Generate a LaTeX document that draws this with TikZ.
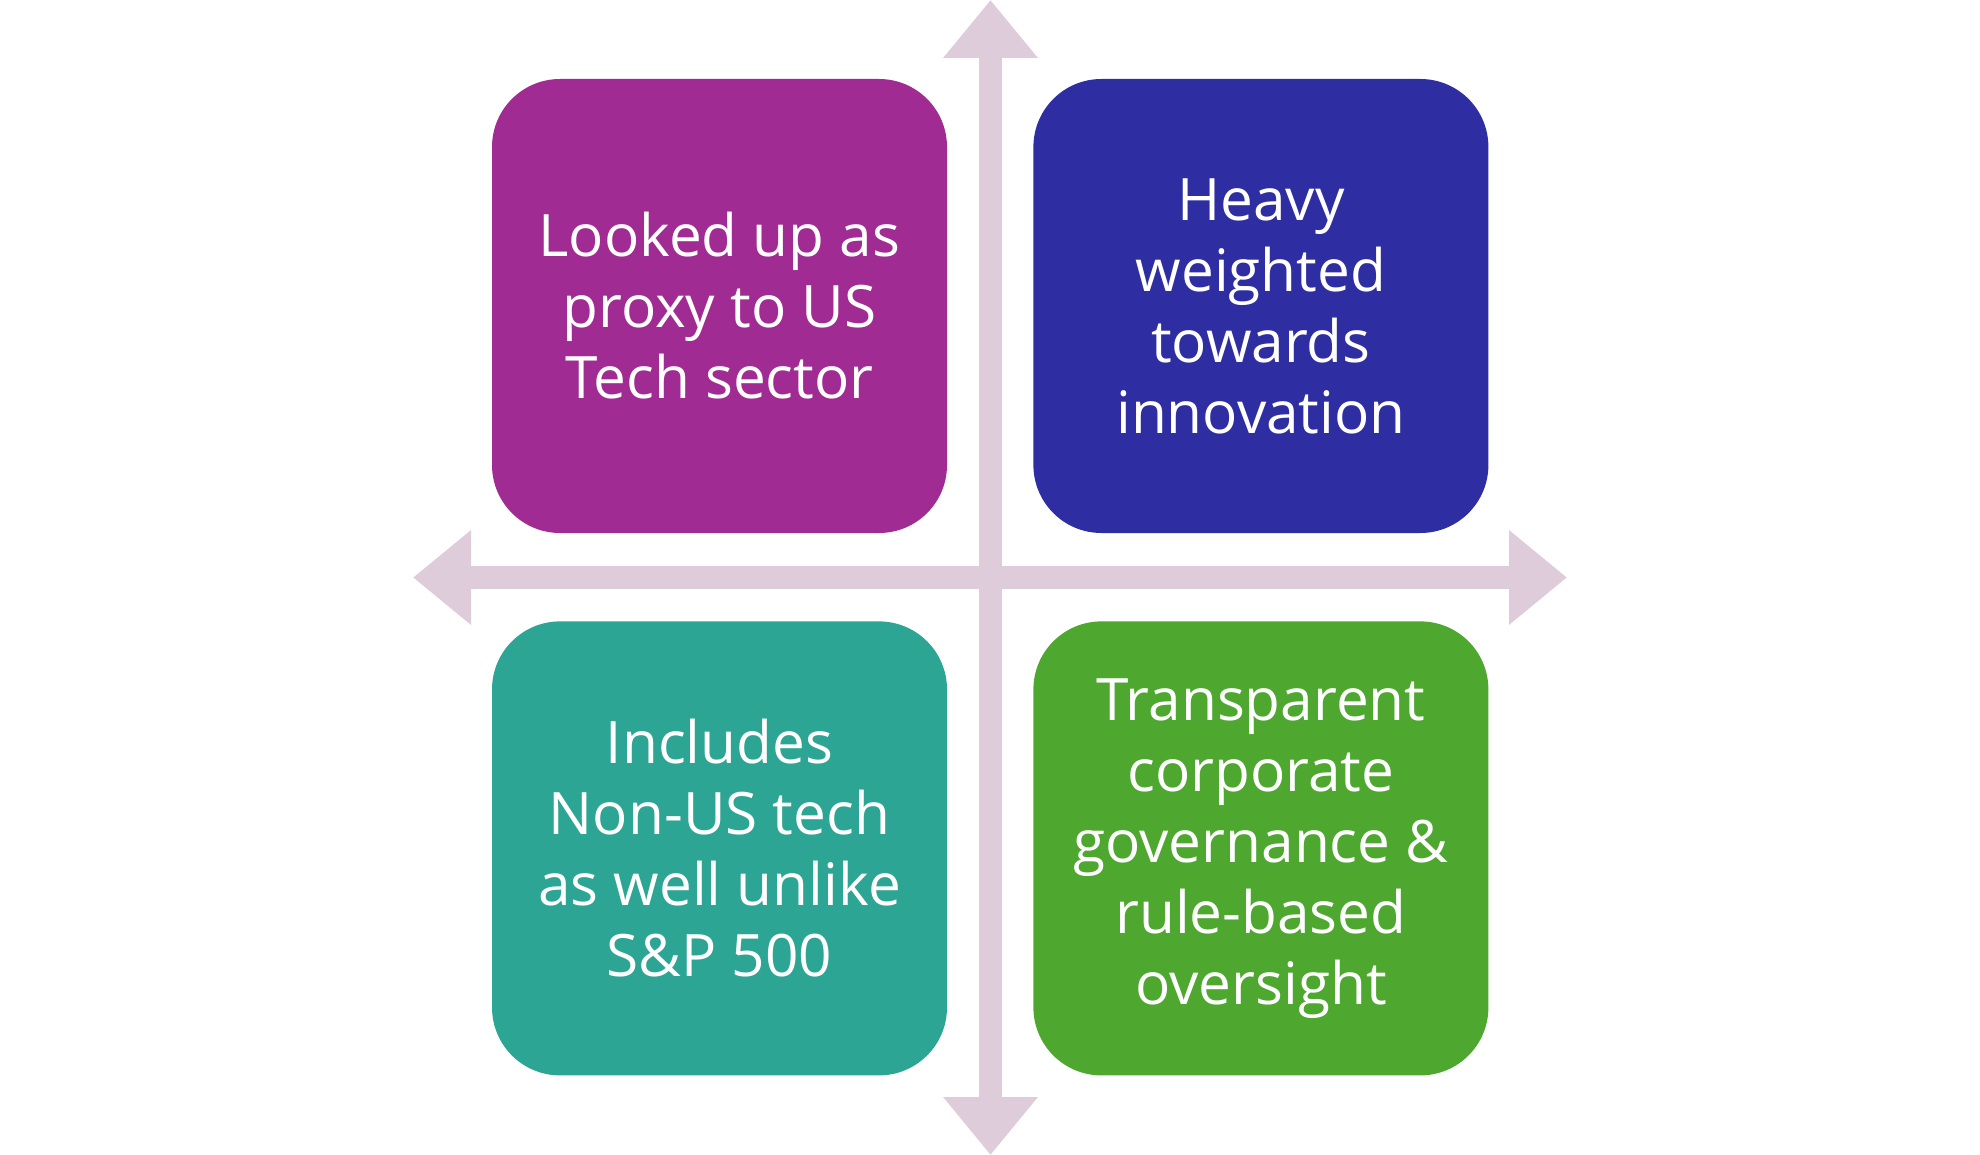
\documentclass[tikz,border=0pt]{standalone}
\usepackage{fontspec}
\setmainfont{Open Sans}
\usetikzlibrary{arrows.meta, positioning}

\definecolor{quadPurple}{HTML}{A02B93}
\definecolor{quadBlue}{HTML}{2E2EA2}
\definecolor{quadTeal}{HTML}{2DA594}
\definecolor{quadGreen}{HTML}{4EA72E}
\definecolor{axisPink}{HTML}{DFCCDB}

\begin{document}
\begin{tikzpicture}[
  x=1pt, y=-1pt,
  quad/.style = {
    rectangle, rounded corners=68pt,
    minimum width=455pt, minimum height=454pt,
    align=center, text=white, inner sep=0pt,
    font=\fontsize{58.5}{71}\selectfont
  },
  axis/.style = {
    draw=axisPink, line width=23pt,
    {Triangle[length=58pt, width=91pt]}-{Triangle[length=58pt, width=91pt]}
  }
]
\useasboundingbox (0,0) rectangle (1980,1155);
%--- AXES ---
\coordinate (top)    at (990.5,0);
\coordinate (bottom) at (990.5,1155);
\coordinate (left)   at (413,577.5);
\coordinate (right)  at (1567,577.5);
\draw[axis] (top) -- (bottom);
\draw[axis] (left) -- (right);
%--- QUADRANTS ---
\node[quad, fill=quadPurple] (proxy) at (719.5,306)
  {Looked up as\\proxy to US\\Tech sector};
\node[quad, fill=quadBlue, right=86pt of proxy] (innov)
  {Heavy\\weighted\\towards\\innovation};
\node[quad, fill=quadTeal, below=88pt of proxy] (nonus)
  {Includes\\Non-US tech\\as well unlike\\S\&P 500};
\node[quad, fill=quadGreen, right=86pt of nonus] (govern)
  {Transparent\\corporate\\governance \&\\rule-based\\oversight};
\end{tikzpicture}
\end{document}
